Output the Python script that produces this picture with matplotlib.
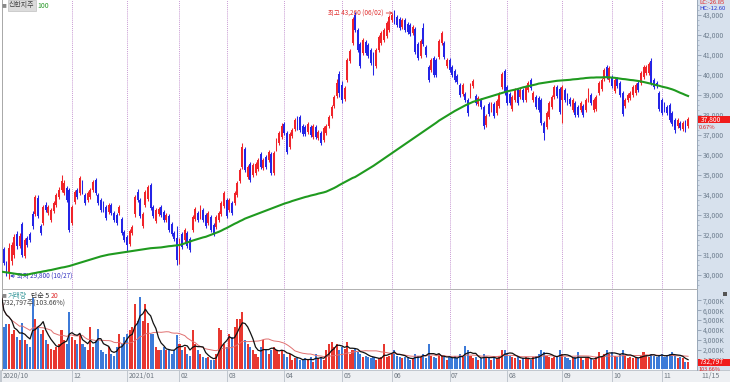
import matplotlib
matplotlib.use("Agg")
import matplotlib.pyplot as plt
from matplotlib.patches import Rectangle
import numpy as np
import pandas as pd

plt.rcParams['font.family'] = ['Noto Sans CJK KR', 'DejaVu Sans']

# trading days per month shown (2020/10 .. 2021/11/15)
month_labels = ['2020/10', '11', '12', '2021/01', '02', '03', '04', '05',
                '06', '07', '08', '09', '10', '11']
month_days = [6, 21, 21, 20, 18, 22, 22, 19, 22, 22, 21, 19, 19, 11]

opens = [
    30450, 31300, 30600, 30100, 30700, 31000,
    32050, 31450, 32550, 30950, 31850, 32050, 33050, 33050, 33850, 32450, 32600, 33500, 33100, 32750, 33200, 33500, 33900, 34250, 34100, 34350, 34250,
    32600, 33650, 34250, 34100, 34600, 34000, 33750, 33900, 34250, 34750, 34000, 33750, 33600, 33400, 33150, 33500, 33100, 33000, 33100, 32800, 32150,
    31900, 31550, 32100, 33050, 34150, 33750, 32450, 33500, 33800, 34500, 33400, 32700, 33050, 33400, 33150, 32750, 32950, 32550, 32100, 31850,
    30650, 32050, 31750, 32100, 31800, 32250, 32800, 33100, 32900, 33250, 33000, 32600, 32900, 32500, 32400, 32750, 33050, 33450,
    33750, 33250, 33600, 33600, 34000, 34700, 35400, 36300, 34900, 35550, 35000, 35100, 35300, 36050, 35350, 35900, 35750, 36050, 35100, 36300, 36600, 36900,
    37550, 37100, 36400, 36950, 37300, 37850, 37900, 37450, 37400, 37150, 37400, 36900, 37400, 36850, 37100, 36750, 37100, 37450, 37950, 38450, 38950, 40050,
    39500, 38800, 39750, 40700, 41600, 43000, 42250, 41550, 41100, 41650, 41500, 41250, 41050, 40450, 41250, 41600, 41750, 41950, 42250,
    42750, 43100, 42900, 42800, 42400, 42750, 42550, 42500, 42100, 42300, 41550, 40950, 42350, 41400, 40400, 40250, 40850, 40750, 40900, 41600, 41600, 40450,
    40750, 40400, 40200, 39950, 39500, 39050, 39050, 38750, 38950, 39450, 38950, 38550, 38750, 38400, 37500, 38550, 38250, 38550, 38100, 38450, 39400, 40200,
    39400, 39050, 38300, 38750, 39250, 38900, 39250, 38750, 39250, 39750, 38750, 38900, 38850, 38750, 37600, 37400, 37900, 38400, 38900, 39400, 39300,
    38750, 39250, 39000, 38800, 38250, 38600, 38400, 38250, 38450, 38250, 38750, 39000, 38250, 38300, 39100, 39300, 39800, 40400, 39750,
    39900, 39200, 39800, 39600, 39100, 38450, 38750, 38850, 39000, 39100, 39600, 39600, 39900, 40100, 40100, 40700, 39750, 39600, 39100,
    38750, 38550, 38400, 38500, 38100, 37750, 37450, 37600, 37300, 37700, 37450,
]
highs = [
    31700, 31400, 30700, 31600, 31650, 32050,
    32200, 32100, 32650, 31850, 31950, 32150, 33200, 34000, 34000, 32550, 33500, 33650, 33500, 33350, 33700, 34100, 34400, 35000, 34750, 34450, 34350,
    33500, 34250, 34350, 34950, 34750, 34100, 34200, 34350, 34750, 34850, 34100, 33850, 33700, 33500, 33600, 33600, 33200, 33100, 33500, 32900, 32250,
    32000, 32300, 32500, 34000, 34300, 33850, 33150, 34250, 34500, 34600, 33500, 33350, 33400, 33500, 33250, 33100, 33050, 32650, 32200, 32450,
    31850, 32150, 32350, 32200, 31900, 33000, 33400, 33200, 33500, 33350, 33100, 33200, 33000, 32600, 33000, 33200, 33700, 34200,
    33850, 33850, 33700, 34200, 34700, 35350, 36600, 36400, 35500, 35650, 35600, 35650, 35850, 36150, 35850, 36000, 36250, 36150, 36200, 36850, 37200, 37600,
    37650, 37200, 37150, 37350, 37850, 37950, 38000, 37550, 37500, 37650, 37500, 37550, 37500, 37250, 37200, 37450, 37550, 38000, 38500, 39000, 39800, 40200,
    39700, 39450, 40850, 41300, 42900, 43150, 42350, 41650, 41850, 41750, 41600, 41350, 41150, 41350, 42000, 42200, 42350, 42700, 43000,
    43100, 43260, 43000, 42900, 42850, 42850, 42650, 42600, 42500, 42400, 41650, 41800, 42600, 41500, 40500, 40850, 40950, 40850, 41800, 42200, 41700, 40850,
    40850, 40500, 40300, 40050, 39600, 39600, 39150, 38850, 39600, 39800, 39050, 38950, 38850, 38500, 38050, 38650, 38650, 38650, 38800, 39150, 40150, 40300,
    39500, 39150, 39000, 39350, 39350, 39350, 39350, 39500, 39700, 39850, 39200, 39000, 38950, 38850, 37700, 38200, 38700, 39000, 39500, 39500, 39400,
    39500, 39350, 39100, 38900, 38850, 38700, 38500, 38700, 38550, 38850, 39350, 39100, 38850, 39000, 39700, 39850, 40350, 40500, 40450,
    40000, 39850, 39900, 39700, 39200, 38850, 39100, 39200, 39500, 39600, 39700, 40200, 40500, 40500, 40650, 40850, 39850, 39700, 39200,
    38850, 38650, 38500, 38600, 38200, 37850, 37850, 37700, 37700, 37750, 37900,
]
lows = [
    30300, 30500, 29950, 29800, 30500, 30850,
    31300, 31350, 30900, 30850, 31400, 31650, 32300, 32950, 32850, 32000, 32500, 33150, 33000, 32650, 33100, 33400, 33800, 34150, 34000, 33650, 32150,
    32500, 33550, 33800, 34000, 34050, 33500, 33650, 33800, 34150, 34000, 33500, 33150, 33150, 32750, 33050, 33000, 32650, 32500, 33000, 32000, 31650,
    31200, 31450, 32000, 32900, 33650, 32850, 32350, 33400, 33700, 33250, 32850, 32600, 32950, 32900, 32650, 32650, 32150, 31950, 31700, 30500,
    30550, 31300, 31650, 31350, 31150, 32150, 32700, 32650, 32800, 32650, 32350, 32500, 32150, 31950, 32300, 32650, 32950, 33350,
    32850, 33150, 33000, 33500, 33900, 34600, 35300, 35150, 34800, 34650, 34900, 35000, 35200, 35300, 35250, 35300, 35650, 35000, 35000, 36200, 36500, 36800,
    37000, 36050, 36300, 36850, 37200, 37250, 37150, 36950, 36950, 37050, 36900, 36800, 36800, 36750, 36500, 36650, 37000, 37350, 37850, 38350, 38850, 38900,
    38600, 38700, 39650, 40600, 41500, 42150, 41150, 40350, 41000, 41000, 40850, 40500, 40000, 40350, 41150, 41500, 41650, 41850, 42150,
    42650, 42550, 42400, 42250, 42300, 42150, 42050, 41950, 42000, 41050, 40750, 40850, 41450, 40900, 39650, 40150, 39900, 39900, 40800, 41500, 40800, 40350,
    40150, 39900, 39650, 39550, 38900, 38950, 38650, 37950, 38850, 39350, 38500, 38450, 38300, 37300, 37400, 37950, 38150, 37850, 38000, 38350, 39300, 39000,
    38500, 38500, 38200, 38650, 38500, 38800, 38650, 38650, 39150, 39250, 38650, 38300, 38150, 37500, 36750, 37300, 37800, 38300, 38800, 38850, 38050,
    37600, 38650, 38500, 38450, 38150, 37900, 37900, 38150, 37900, 38150, 38650, 38500, 38150, 38200, 39000, 39200, 39700, 39800, 39650,
    39350, 39100, 39350, 38900, 37950, 38350, 38650, 38750, 38900, 39000, 39150, 39500, 39800, 40000, 40000, 39500, 39300, 39350, 38200,
    38000, 38150, 38000, 37650, 37450, 37100, 37350, 37250, 37200, 37150, 37350,
]
closes = [
    31550, 30600, 30050, 31350, 31500, 31900,
    31450, 31950, 31000, 31750, 31500, 31750, 32450, 33900, 32950, 32100, 33400, 33250, 33400, 33250, 33600, 34000, 34250, 34700, 34600, 33750, 32250,
    33400, 34150, 33900, 34850, 34150, 33600, 34100, 34250, 34650, 34100, 33600, 33250, 33250, 32850, 33500, 33100, 32750, 32600, 33400, 32100, 31750,
    31500, 32200, 32400, 33900, 33750, 32950, 33050, 34150, 34400, 33350, 32950, 33250, 33300, 33000, 32750, 33000, 32250, 32050, 31800, 30750,
    31750, 31400, 32250, 31450, 31250, 32900, 33300, 32750, 33400, 32750, 32450, 33100, 32250, 32050, 32900, 33100, 33600, 34100,
    32950, 33750, 33100, 34100, 34600, 35250, 36400, 35250, 35400, 34750, 35500, 35550, 35750, 35400, 35750, 35400, 36150, 35100, 36100, 36750, 37100, 37450,
    37100, 36150, 37050, 37250, 37750, 37350, 37250, 37050, 37050, 37550, 37000, 37450, 36900, 37150, 36600, 37350, 37450, 37900, 38400, 38900, 39600, 39100,
    38750, 39350, 40750, 41200, 42800, 42250, 41250, 40450, 41750, 41100, 40950, 40600, 40100, 41250, 41900, 42100, 42250, 42600, 42900,
    43000, 42650, 42500, 42350, 42750, 42250, 42150, 42050, 42400, 41150, 40850, 41700, 41550, 41000, 39750, 40750, 40000, 40000, 41700, 42100, 40900, 40750,
    40250, 40000, 39750, 39650, 39000, 39500, 38750, 38100, 39500, 39700, 38600, 38850, 38400, 37450, 37950, 38050, 38550, 37950, 38700, 39050, 40050, 39100,
    38600, 38600, 38900, 39250, 38600, 39250, 38750, 39400, 39600, 39350, 39100, 38400, 38250, 37600, 37100, 38100, 38600, 38900, 39400, 38950, 38150,
    39400, 38750, 38600, 38550, 38750, 38000, 38000, 38600, 38000, 38750, 39250, 38600, 38750, 38900, 39600, 39750, 40250, 39900, 40350,
    39450, 39750, 39450, 39000, 38050, 38750, 39000, 39100, 39400, 39500, 39250, 40100, 40400, 40400, 40550, 39600, 39400, 39450, 38300,
    38100, 38250, 38100, 37750, 37550, 37250, 37750, 37350, 37600, 37550, 37800,
]
# 100-day moving average as drawn (green)
ma100 = [
    30170, 30150, 30130, 30110, 30090, 30070,
    30050, 30030, 30010, 30000, 30020, 30050, 30080, 30100, 30130, 30150, 30180, 30200, 30230, 30250, 30280, 30310, 30340, 30370, 30390, 30420, 30450,
    30490, 30530, 30570, 30610, 30650, 30690, 30730, 30770, 30810, 30850, 30890, 30930, 30960, 30990, 31020, 31040, 31060, 31080, 31100, 31120, 31140,
    31160, 31180, 31200, 31220, 31240, 31260, 31280, 31300, 31320, 31340, 31350, 31360, 31370, 31380, 31400, 31420, 31440, 31450, 31470, 31480,
    31500, 31540, 31580, 31630, 31670, 31720, 31760, 31800, 31840, 31880, 31910, 31960, 32010, 32060, 32110, 32160, 32220, 32290,
    32350, 32420, 32490, 32560, 32620, 32690, 32750, 32820, 32870, 32920, 32970, 33020, 33070, 33120, 33170, 33220, 33270, 33320, 33370, 33420, 33470, 33520,
    33570, 33610, 33650, 33700, 33740, 33780, 33820, 33860, 33900, 33930, 33970, 34000, 34030, 34070, 34100, 34130, 34170, 34230, 34290, 34350, 34420, 34500,
    34570, 34640, 34710, 34780, 34850, 34900, 34980, 35060, 35140, 35220, 35300, 35380, 35460, 35550, 35640, 35730, 35820, 35910, 36000,
    36090, 36180, 36270, 36360, 36450, 36540, 36630, 36720, 36810, 36900, 36990, 37080, 37170, 37260, 37350, 37440, 37530, 37620, 37720, 37800, 37880, 37960,
    38040, 38120, 38200, 38270, 38340, 38410, 38480, 38540, 38600, 38660, 38700, 38740, 38780, 38820, 38860, 38900, 38940, 38980, 39020, 39060, 39100, 39140,
    39180, 39210, 39240, 39270, 39300, 39340, 39380, 39410, 39440, 39470, 39500, 39530, 39570, 39590, 39610, 39630, 39650, 39670, 39690, 39710, 39720,
    39730, 39740, 39750, 39760, 39780, 39790, 39800, 39820, 39830, 39850, 39860, 39870, 39870, 39880, 39880, 39880, 39890, 39890, 39880,
    39870, 39860, 39840, 39820, 39800, 39790, 39770, 39750, 39740, 39720, 39700, 39680, 39650, 39620, 39590, 39560, 39520, 39490, 39460,
    39420, 39390, 39360, 39320, 39280, 39230, 39170, 39110, 39060, 39000, 38950,
]
# volume, thousand shares
volumes = [
    7700, 4300, 4600, 4600, 3600, 3950,
    3300, 2950, 4650, 2950, 2600, 2250, 7200, 5150, 4300, 3600, 3950, 2950, 2600, 2100, 1950, 2250, 2600, 3950, 2950, 2600, 5800,
    3300, 2950, 2600, 3600, 2600, 2250, 1950, 4300, 2250, 2950, 4100, 1950, 1750, 1600, 2250, 1600, 1400, 2250, 3600, 2600, 3300,
    3600, 3950, 4300, 6650, 4950, 7300, 4950, 6650, 4650, 3600, 3600, 2250, 1950, 1950, 2250, 1950, 1950, 1600, 1950, 3450,
    2600, 1950, 2250, 1600, 1400, 3950, 2600, 1950, 1600, 1250, 1100, 1250, 900, 900, 1600, 4150, 3950, 2600,
    2250, 3600, 3300, 4300, 5100, 5100, 5800, 2950, 2600, 2250, 1950, 1600, 1250, 2250, 2950, 1950, 1600, 1950, 2250, 1950, 1600, 1950,
    1600, 1250, 1600, 900, 1100, 1100, 900, 900, 1100, 900, 1250, 750, 1600, 1100, 1250, 900, 1950, 2600, 2800, 2250, 2600, 1950,
    2250, 2100, 2800, 1600, 1950, 2100, 1750, 1600, 1250, 1400, 1250, 1100, 1250, 900, 1100, 1250, 2600, 1250, 1400,
    1600, 1950, 1400, 1250, 1100, 1250, 1100, 900, 1100, 1600, 1400, 1250, 1600, 1100, 2600, 1400, 1250, 1100, 1600, 1400, 1250, 900,
    1250, 1100, 1400, 1100, 1600, 1250, 2400, 1950, 1400, 1100, 1250, 900, 1100, 1600, 1250, 1100, 900, 1250, 1100, 1400, 1950, 1950,
    1600, 1400, 1250, 1100, 1250, 900, 1100, 1250, 1100, 900, 1250, 1400, 1600, 1950, 1750, 1400, 1250, 1100, 1250, 1400, 1950,
    1600, 1250, 1100, 900, 1100, 1250, 1750, 1100, 900, 1100, 1250, 1100, 900, 1250, 1750, 1400, 1600, 1950, 1600,
    1750, 1400, 1250, 1600, 1950, 1400, 1100, 1250, 1100, 1250, 1100, 1400, 1750, 1400, 1250, 1600, 1400, 1250, 1400,
    1600, 1250, 1400, 1600, 1750, 1400, 1100, 1250, 1100, 707, 733,
]

o = np.array(opens); h = np.array(highs); l = np.array(lows); c = np.array(closes)
v = np.array(volumes)
n = len(c)
assert all(len(a) == n for a in (o, h, l, ma100, v)), [len(a) for a in (o, h, l, c, ma100, v)]
x = np.arange(n)
starts = np.concatenate([[0], np.cumsum(month_days)[:-1]])

RED, BLUE = '#f0242a', '#2424e6'
VRED, VBLUE = '#e8372f', '#3c7ad8'
up = c >= o
ccol = np.where(up, RED, BLUE)
vcol = np.where(up, VRED, VBLUE)

W, H = 730, 382
fig = plt.figure(figsize=(7.3, 3.82), dpi=100)
fig.patch.set_facecolor('white')


def box(x0, y0, x1, y1):
    return [x0 / W, 1 - y1 / H, (x1 - x0) / W, (y1 - y0) / H]


def fpt(xp, yp):
    return xp / W, 1 - yp / H


# right scale panel and bottom date strip (behind the axes)
fig.patches.append(Rectangle(fpt(697, 370), 33 / W, 370 / H, transform=fig.transFigure,
                             facecolor='#d7e1ed', edgecolor='none', zorder=-2))
fig.patches.append(Rectangle(fpt(0, 382), 1, 12 / H, transform=fig.transFigure,
                             facecolor='#eef0f3', edgecolor='#b9c0c8', lw=0.6, zorder=-2))

xl = (0.3, 265.4)
grid_kw = dict(color='#b87cc6', lw=0.6, ls=(0, (1, 1.3)), zorder=1)

# ---- price panel
ax = fig.add_axes(box(2, 0, 697, 289))
ax.patch.set_alpha(0)
ax.vlines(x, l, h, colors=ccol, lw=0.75, zorder=3)
ax.bar(x, np.maximum(np.abs(c - o), 40), bottom=np.minimum(o, c), width=0.72,
       color=ccol, linewidth=0, zorder=4)
ax.plot(x, ma100, color='#1f9a1f', lw=1.5, zorder=5)
for s in starts[2:]:
    ax.axvline(s, **grid_kw)
ax.set_xlim(*xl)
ax.set_ylim(29300, 43750)
ax.set_xticks([])
ax.yaxis.tick_right()
pt = np.arange(30000, 43001, 1000)
ax.set_yticks(pt)
ax.set_yticklabels([f'{t:,}' for t in pt])
ax.set_yticks(np.arange(29500, 43750, 250), minor=True)
ax.tick_params(axis='y', which='major', direction='out', length=3, width=0.5,
               color='#7d8ea3', labelsize=5, labelcolor='#6f7f90', pad=1)
ax.tick_params(axis='y', which='minor', direction='out', length=1.5, width=0.4, color='#8d9db0')
ax.spines['top'].set_visible(False)
ax.spines['left'].set_color('#a8a8a8')
ax.spines['right'].set_color('#9aa8b8')
ax.spines['bottom'].set_color('#b0b0b0')
for sp in ax.spines.values():
    sp.set_linewidth(0.7)

i_hi = int(np.argmax(h)); i_lo = int(np.argmin(l))
ax.annotate(f'최고 {h[i_hi]:,} (06/02)', xy=(i_hi - 0.5, 43100), xytext=(i_hi - 4.2, 43100),
            ha='right', va='center', fontsize=4.6, color='#e03030',
            arrowprops=dict(arrowstyle='->', color='#e03030', lw=0.6, shrinkA=0, shrinkB=0))
ax.annotate(f'최저 {l[i_lo]:,} (10/27)', xy=(i_lo + 0.4, 29950), xytext=(i_lo + 3.2, 29950),
            ha='left', va='center', fontsize=4.6, color='#3030c0',
            arrowprops=dict(arrowstyle='->', color='#3030c0', lw=0.6, shrinkA=0, shrinkB=0))

# ---- volume panel
av = fig.add_axes(box(2, 290, 697, 370))
av.patch.set_alpha(0)
av.bar(x, v, width=0.78, color=vcol, linewidth=0, zorder=3)
vs = pd.Series(v, dtype=float)
av.plot(x, vs.rolling(20, min_periods=1).mean(), color='#e07070', lw=0.7, zorder=4)
av.plot(x, vs.rolling(5, min_periods=1).mean(), color='#111111', lw=0.9, zorder=5)
for s in starts[2:]:
    av.axvline(s, **grid_kw)
av.set_xlim(*xl)
av.set_ylim(-70, 8050)
av.yaxis.tick_right()
vt = np.arange(1000, 7001, 1000)
av.set_yticks(vt)
av.set_yticklabels([f'{t:,}K' for t in vt])
av.tick_params(axis='y', direction='out', length=3, width=0.5, color='#7d8ea3',
               labelsize=5, labelcolor='#6f7f90', pad=1)
av.set_xticks([])
av.spines['top'].set_visible(False)
av.spines['bottom'].set_visible(False)
av.spines['left'].set_color('#a8a8a8')
av.spines['right'].set_color('#9aa8b8')
for sp in av.spines.values():
    sp.set_linewidth(0.7)

# date labels in the bottom strip
tx = av.get_xaxis_transform()
shown = [0] + list(range(2, len(month_labels)))
for k in shown:
    s = starts[k]
    av.vlines(s, -0.15, 0, transform=tx, colors='#b9c0c8', lw=0.6, clip_on=False)
    av.text(s + 0.6, -0.075, month_labels[k], transform=tx, ha='left', va='center',
            fontsize=5, color='#6d7680', clip_on=False)
fig.text(*fpt(701, 376), '11/15', ha='left', va='center', fontsize=5, color='#6d7680')

# legends
fig.text(*fpt(2, 5.5), '■', fontsize=3.5, color='#8a8a8a', va='center')
fig.text(*fpt(9, 5.5), '신한지주', fontsize=5, color='#404040', va='center',
         bbox=dict(boxstyle='square,pad=0.15', facecolor='#dcdcdc', edgecolor='#b4b4b4', lw=0.4))
fig.text(*fpt(37, 5.5), '100', fontsize=5, color='#2a9a2a', va='center')

fig.text(*fpt(2, 296), '■', fontsize=3.5, color='#8a8a8a', va='center')
fig.text(*fpt(8, 296), '거래량', fontsize=5, color='#3f9c9e', va='center')
fig.text(*fpt(31, 296), '단순 5', fontsize=5, color='#303030', va='center')
fig.text(*fpt(51, 296), '20', fontsize=5, color='#e03030', va='center')
fig.text(*fpt(3, 304), '732,797주(103.66%)', fontsize=5, color='#454545', va='center')

# right panel readouts
fig.text(*fpt(699, 2.5), 'LC:-26.85', fontsize=4.2, color='#e02020', va='center')
fig.text(*fpt(699, 9), 'HC:-12.60', fontsize=4.2, color='#2030d0', va='center')
fig.patches.append(Rectangle(fpt(698, 123), 32 / W, 7 / H, transform=fig.transFigure,
                             facecolor='#f01c1c', edgecolor='none', zorder=5))
fig.text(*fpt(701, 119.5), f'{closes[-1]:,}', fontsize=4.8, color='white', va='center', zorder=6)
fig.text(*fpt(699, 127.5), '0.67%', fontsize=4.2, color='#e02020', va='center')
fig.patches.append(Rectangle(fpt(698, 365.5), 32 / W, 7 / H, transform=fig.transFigure,
                             facecolor='#f01c1c', edgecolor='none', zorder=5))
fig.text(*fpt(700, 362), '732,797', fontsize=4.8, color='white', va='center', zorder=6)
fig.text(*fpt(699, 369.5), '103.66%', fontsize=4.0, color='#e02020', va='center')
fig.patches.append(Rectangle(fpt(723, 296), 4 / W, 4 / H, transform=fig.transFigure,
                             facecolor='#555555', edgecolor='none', zorder=5))

fig.savefig('out.png', dpi=100)
